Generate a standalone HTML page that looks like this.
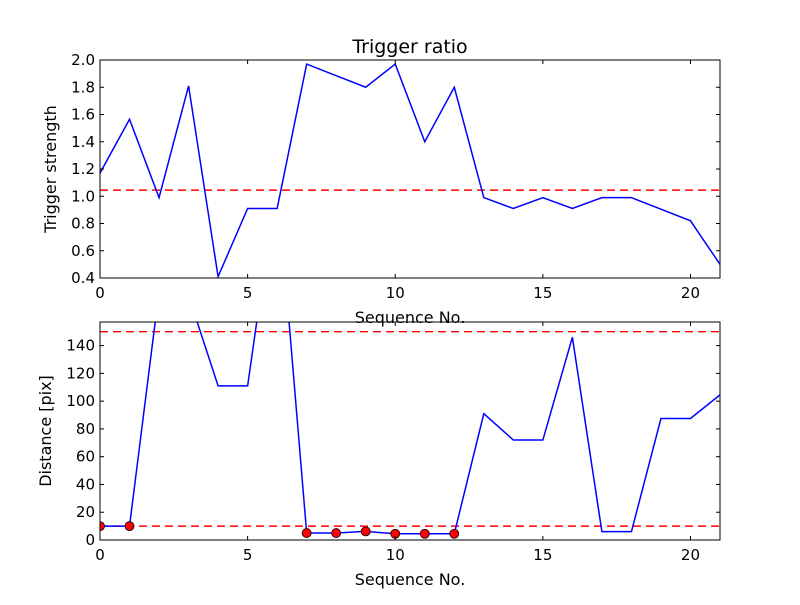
<!DOCTYPE html>
<html><head><meta charset="utf-8"><style>
body{margin:0;background:#fff}
text{font-family:"DejaVu Sans","Liberation Sans",sans-serif;fill:#000}
</style></head><body>
<svg id="chart" width="800" height="600" xmlns="http://www.w3.org/2000/svg">
<rect width="800" height="600" fill="#fff"/>
</svg>
<script>
const seq = [0,1,2,3,4,5,6,7,8,9,10,11,12,13,14,15,16,17,18,19,20,21];
const ratio = [1.17,1.565,0.99,1.81,0.41,0.91,0.91,1.97,1.885,1.80,1.97,1.40,1.80,0.99,0.91,0.99,0.91,0.99,0.99,0.905,0.82,0.50];
const ratioThreshold = 1.045;
const dist = [10,10,179,176,111,111,260,5,5,6.2,4.5,4.5,4.5,91,72,72,146,6,6,87.5,87.5,104.5];
const distThresholds = [10,150];
const markedIdx = [0,1,7,8,9,10,11,12];
const xTicks = [0,5,10,15,20];
const ratioTicks = [0.4,0.6,0.8,1.0,1.2,1.4,1.6,1.8,2.0];
const distTicks = [0,20,40,60,80,100,120,140];

const svg = document.getElementById('chart');
const NS = 'http://www.w3.org/2000/svg';
function mk(tag, attrs, parent){const e=document.createElementNS(NS,tag);for(const k in attrs)e.setAttribute(k,attrs[k]);(parent||svg).appendChild(e);return e;}
const X0=100,X1=720,XMAX=21;
const xs = v => X0 + v/XMAX*(X1-X0);

function panel(name, top, bottom, ymin, ymax, yTicks, fmt, vals, thr, ylabel, markers, ylx){
  const ys = v => bottom - (v-ymin)/(ymax-ymin)*(bottom-top);
  const g = mk('g',{});
  
  
  const cid='clip-'+name;
  const cp=mk('clipPath',{id:cid},g); mk('rect',{x:X0,y:top,width:X1-X0,height:bottom-top},cp);
  const pl=mk('g',{'clip-path':'url(#'+cid+')'},g);
  thr.forEach(t=>{
    const l=mk('line',{x1:X0,x2:X1,y1:ys(t),y2:ys(t),stroke:'#ff0000','stroke-width':1.4,'stroke-dasharray':'8,5'},pl);
    
    
  });
  const p=mk('polyline',{points:vals.map((v,i)=>xs(seq[i])+','+ys(v)).join(' '),fill:'none',stroke:'#0000ff','stroke-width':1.5},pl);
  
  
  (markers||[]).forEach(i=>{
    const c=mk('circle',{cx:xs(seq[i]),cy:ys(vals[i]),r:4.5,fill:'#ff0000',stroke:'#000','stroke-width':0.8},pl);
    
    
  });
  mk('rect',{x:X0,y:top,width:X1-X0,height:bottom-top,fill:'none',stroke:'#000','stroke-width':1},g);
  xTicks.forEach(t=>{
    const x=xs(t);
    mk('line',{x1:x,x2:x,y1:bottom,y2:bottom-4,stroke:'#000'},g);
    mk('line',{x1:x,x2:x,y1:top,y2:top+4,stroke:'#000'},g);
    const tx=mk('text',{x:x,y:bottom+20,'text-anchor':'middle','font-size':15},g);
    tx.textContent=t;
    
    
  });
  yTicks.forEach(t=>{
    const y=ys(t);
    mk('line',{x1:X0,x2:X0+4,y1:y,y2:y,stroke:'#000'},g);
    mk('line',{x1:X1,x2:X1-4,y1:y,y2:y,stroke:'#000'},g);
    const tx=mk('text',{x:X0-5,y:y+5,'text-anchor':'end','font-size':15},g);
    tx.textContent=fmt(t);
    
    
  });
  const xl=mk('text',{x:410,y:bottom+45,'text-anchor':'middle','font-size':16},g);
  xl.textContent='Sequence No.';
  
  
  const yl=mk('text',{x:0,y:0,'text-anchor':'middle','font-size':16,transform:'translate('+ylx+','+((top+bottom)/2)+') rotate(-90)'},g);
  yl.textContent=ylabel;
  
  
}
panel('top-panel',60,278,0.4,2.0,ratioTicks,t=>t.toFixed(1),ratio,[ratioThreshold],'Trigger strength',[],56);
panel('bottom-panel',322,540,0,157,distTicks,t=>String(t),dist,distThresholds,'Distance [pix]',markedIdx,51);
const title=mk('text',{x:410,y:53,'text-anchor':'middle','font-size':19});
title.textContent='Trigger ratio';


</script>
</body></html>
